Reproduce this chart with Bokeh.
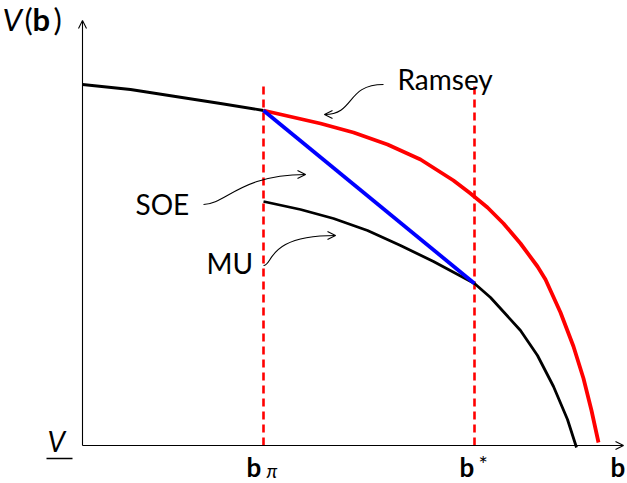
from bokeh.plotting import figure
from bokeh.models import Range1d, Arrow, OpenHead
from bokeh.core.properties import value
from bokeh.embed import file_html
from bokeh.resources import INLINE

# Threshold debt levels on the b axis
b_pi = 1.81
b_star = 3.92

# Welfare before b_pi (common branch)
common_b = [0.0, 0.48, 0.93, 1.38, 1.81]
common_v = [3.61, 3.56, 3.49, 3.42, 3.35]

# Ramsey frontier
ramsey_b = [1.81, 2.38, 2.71, 3.05, 3.38, 3.71, 3.88, 4.05, 4.21, 4.38,
            4.55, 4.63, 4.78, 4.91, 5.01, 5.09, 5.16]
ramsey_v = [3.35, 3.22, 3.13, 3.01, 2.86, 2.65, 2.52, 2.38, 2.22, 2.02,
            1.79, 1.66, 1.33, 0.99, 0.67, 0.35, 0.03]

# Monetary union branch
mu_b = [1.81, 2.18, 2.51, 2.85, 3.18, 3.51, 3.92, 4.08, 4.38, 4.55, 4.71, 4.85, 4.94]
mu_v = [2.44, 2.36, 2.27, 2.15, 2.00, 1.84, 1.62, 1.48, 1.15, 0.90, 0.59, 0.26, -0.02]

# SOE segment between the thresholds
soe_b = [1.81, 3.92]
soe_v = [3.35, 1.62]

guide_top = 3.60
x_axis_end = 5.41
y_axis_end = 4.25

# Callout curves (cubic Bezier: start, two controls, end)
callouts = {
    "Ramsey": dict(x0=3.01, y0=3.61, cx0=2.63, cy0=3.61, cx1=2.73, cy1=3.31, x1=2.42, y1=3.31),
    "SOE": dict(x0=1.21, y0=2.41, cx0=1.43, cy0=2.41, cx1=1.58, cy1=2.71, x1=2.23, y1=2.71),
    "MU": dict(x0=1.81, y0=1.80, cx0=1.91, cy0=1.80, cx1=1.83, cy1=2.10, x1=2.53, y1=2.10),
}
label_pos = {"Ramsey": (3.15, 3.54), "SOE": (0.53, 2.29), "MU": (1.24, 1.70)}

FONT = value("Lato")

p = figure(width=627, height=483, output_backend="svg", toolbar_location=None,
           x_range=Range1d(-0.82, 5.45), y_range=Range1d(-0.38, 4.45),
           x_axis_type=None, y_axis_type=None, min_border=0)
p.outline_line_color = None
p.background_fill_color = "white"
p.border_fill_color = "white"

# axes drawn as arrows from the origin
axis_head = dict(size=8, line_width=1.1, line_color="black")
p.add_layout(Arrow(end=OpenHead(**axis_head), x_start=0, y_start=0, x_end=x_axis_end, y_end=0,
                   line_width=1.1, line_color="black"))
p.add_layout(Arrow(end=OpenHead(**axis_head), x_start=0, y_start=0, x_end=0, y_end=y_axis_end,
                   line_width=1.1, line_color="black"))

# dashed guides at the thresholds
for bx in (b_pi, b_star):
    p.line([bx, bx], [0, guide_top], line_color="#ff0000", line_width=2.6, line_dash="8 5")

p.line(common_b, common_v, line_color="black", line_width=2.8, line_join="round")
p.line(ramsey_b, ramsey_v, line_color="#ff0000", line_width=3.8, line_join="round")
p.line(mu_b, mu_v, line_color="black", line_width=2.8, line_join="round")
p.line(soe_b, soe_v, line_color="#0000ff", line_width=3.8)


def put(x, y, s, size_px, style="normal"):
    # alphabetic baseline of the rendered text sits below the anchor; lift it
    lift = 0.43 * size_px / 100.0
    p.text(x=[x], y=[y + lift], text=[s], text_font=FONT, text_font_size=f"{size_px}px",
           text_font_style=style, text_baseline="alphabetic", text_align="left",
           text_color="black")


# callouts
for name, c in callouts.items():
    p.bezier(x0=[c["x0"]], y0=[c["y0"]], x1=[c["x1"]], y1=[c["y1"]],
             cx0=[c["cx0"]], cy0=[c["cy0"]], cx1=[c["cx1"]], cy1=[c["cy1"]],
             line_color="black", line_width=1.1)
    dx = c["x1"] - c["cx1"]
    dy = c["y1"] - c["cy1"]
    n = (dx * dx + dy * dy) ** 0.5
    p.add_layout(Arrow(end=OpenHead(size=8, line_width=1.1, line_color="black"),
                       x_start=c["x1"] - 0.02 * dx / n, y_start=c["y1"] - 0.02 * dy / n,
                       x_end=c["x1"], y_end=c["y1"], line_width=1.1, line_color="black"))
    lx, ly = label_pos[name]
    put(lx, ly, name, 28)

# y-axis title V(b)
put(-0.80, 4.13, "V", 31, "italic")
put(-0.58, 4.13, "(", 31)
put(-0.50, 4.13, "b", 31, "bold")
put(-0.29, 4.13, ")", 31)

# lower bound V underlined
put(-0.35, -0.08, "V", 28, "italic")
p.line([-0.36, -0.10], [-0.13, -0.13], line_color="black", line_width=1.5)

# tick labels on the b axis
put(b_pi - 0.17, -0.33, "b", 26, "bold")
put(b_pi + 0.03, -0.335, "π", 19, "italic")
put(b_star - 0.15, -0.33, "b", 26, "bold")
put(b_star + 0.04, -0.27, "*", 22)
put(5.28, -0.33, "b", 26, "bold")

open("out.html", "w").write(file_html(p, INLINE))
